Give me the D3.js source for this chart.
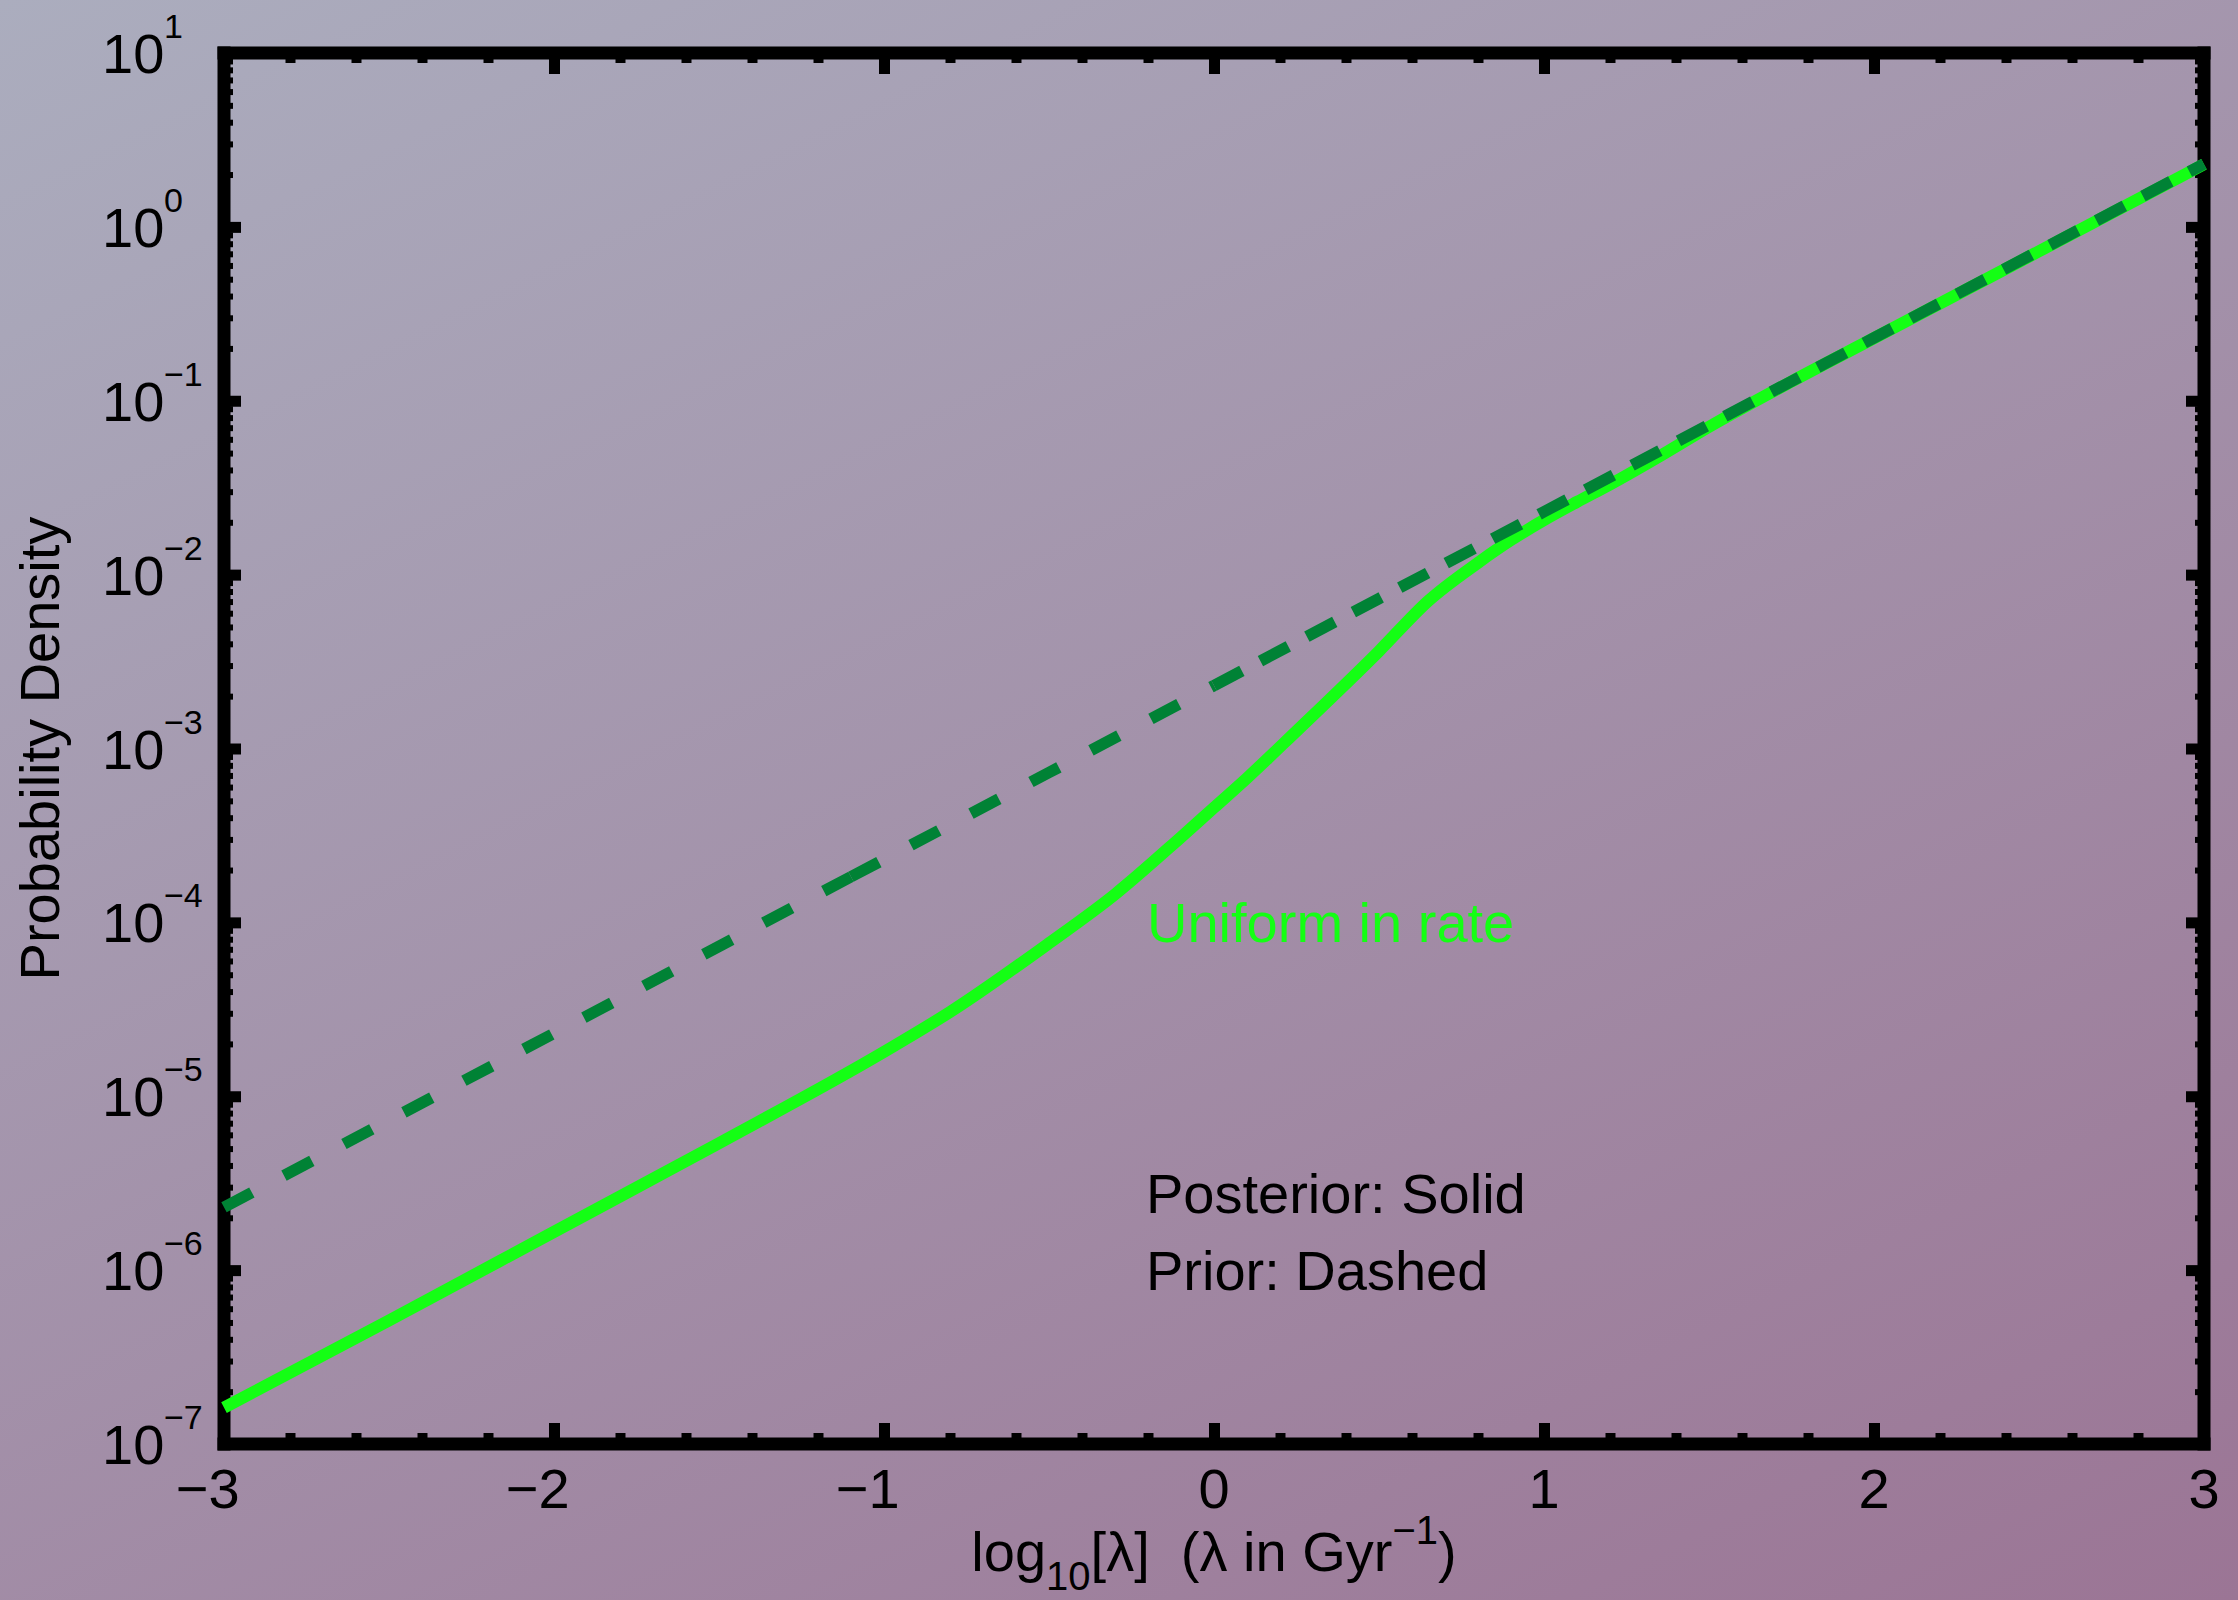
<!DOCTYPE html>
<html><head><meta charset="utf-8">
<script src="https://cdn.jsdelivr.net/npm/d3@7"></script>
<style>
html,body{margin:0;padding:0;overflow:hidden;background:#a39aae;}
text{font-family:"Liberation Sans",Arial,Helvetica,sans-serif;}
</style>
</head><body>
<svg id="chart" width="2238" height="1600"></svg>
<script>
// ---- data ----
const xTickValues = [-3, -2, -1, 0, 1, 2, 3];
const xTickLabels = ["\u22123", "\u22122", "\u22121", "0", "1", "2", "3"];
const yTickExponents = [1, 0, -1, -2, -3, -4, -5, -6, -7];
const yTickExpLabels = ["1", "0", "\u22121", "\u22122", "\u22123", "\u22124", "\u22125", "\u22126", "\u22127"];

// Prior (dashed): log10(lambda) vs probability density
const priorX = [-3, -2.5, -2, -1.5, -1.1, -0.5, 0, 0.5, 1, 1.5, 2, 2.5, 3];
const priorY = [2.30e-6, 7.28e-6, 2.30e-5, 7.28e-5, 1.83e-4, 7.28e-4, 2.30e-3, 7.28e-3, 2.30e-2, 7.28e-2, 0.230, 0.728, 2.30];
const priorDashBreaks = [-1.1, 0];   // where the dash pattern restarts

// Posterior (solid)
const posteriorX = [-3.0, -2.5, -2.0, -1.5, -1.0, -0.8, -0.5, -0.3, -0.1, 0.0, 0.1, 0.25, 0.5, 0.65, 0.8, 0.9, 1.0, 1.1, 1.2, 1.35, 1.5, 1.75, 2.0, 2.5, 3.0];
const posteriorY = [1.62e-7, 5.13e-7, 1.66e-6, 5.37e-6, 1.80e-5, 3.05e-5, 7.59e-5, 1.45e-4, 3.09e-4, 4.57e-4, 6.76e-4, 1.26e-3, 3.63e-3, 7.08e-3, 1.17e-2, 1.58e-2, 2.06e-2, 2.62e-2, 3.30e-2, 4.79e-2, 7.08e-2, 0.129, 0.229, 0.724, 2.29];

const annotationLabel = "Uniform in rate";
const legendLines = ["Posterior: Solid", "Prior: Dashed"];
const yTitle = "Probability Density";

// ---- layout ----
const W = 2238, H = 1600;
const L = 224, R = 2204, T = 53, B = 1444;
const FS = 56;
const brightGreen = "#14ff14", darkGreen = "#008235";

const svg = d3.select("#chart");

// background gradient
const defs = svg.append("defs");
const grad = defs.append("linearGradient").attr("id", "bg")
  .attr("gradientUnits", "userSpaceOnUse")
  .attr("x1", 0).attr("y1", 0).attr("x2", 1080).attr("y2", 2175);
grad.append("stop").attr("offset", 0).attr("stop-color", "rgb(171,173,190)");
grad.append("stop").attr("offset", 1).attr("stop-color", "rgb(155,117,149)");
svg.append("rect").attr("width", W).attr("height", H).attr("fill", "url(#bg)");

const x = d3.scaleLinear().domain([-3, 3]).range([L, R]);
const y = d3.scaleLog().domain([1e-7, 10]).range([B, T]);

// minor tick positions
const xMinor = d3.range(-3, 3.0001, 0.2).map(v => +v.toFixed(1)).filter(v => Math.abs(v - Math.round(v)) > 1e-6);
const yMinor = [];
for (let e = -7; e <= 0; e++) for (let m = 2; m <= 9; m++) yMinor.push(m * Math.pow(10, e));
const yMajor = yTickExponents.map(e => Math.pow(10, e));

function styleAxis(g, w) {
  g.select(".domain").remove();
  g.selectAll(".tick line").attr("stroke", "#000").attr("stroke-width", w);
  g.selectAll(".tick text").remove();
}

// ticks via d3 axes (inward)
svg.append("g").attr("transform", `translate(0,${B})`)
  .call(d3.axisBottom(x).tickValues(xTickValues).tickSizeInner(-21).tickSizeOuter(0).tickFormat(""))
  .call(g => styleAxis(g, 11));
svg.append("g").attr("transform", `translate(0,${B})`)
  .call(d3.axisBottom(x).tickValues(xMinor).tickSizeInner(-11).tickSizeOuter(0).tickFormat(""))
  .call(g => styleAxis(g, 10));
svg.append("g").attr("transform", `translate(0,${T})`)
  .call(d3.axisTop(x).tickValues(xTickValues).tickSizeInner(-21).tickSizeOuter(0).tickFormat(""))
  .call(g => styleAxis(g, 11));
svg.append("g").attr("transform", `translate(0,${T})`)
  .call(d3.axisTop(x).tickValues(xMinor).tickSizeInner(-10).tickSizeOuter(0).tickFormat(""))
  .call(g => styleAxis(g, 10));
svg.append("g").attr("transform", `translate(${L},0)`)
  .call(d3.axisLeft(y).tickValues(yMajor).tickSizeInner(-17).tickSizeOuter(0).tickFormat(""))
  .call(g => styleAxis(g, 11));
svg.append("g").attr("transform", `translate(${L},0)`)
  .call(d3.axisLeft(y).tickValues(yMinor).tickSizeInner(-9).tickSizeOuter(0).tickFormat(""))
  .call(g => styleAxis(g, 6));
svg.append("g").attr("transform", `translate(${R},0)`)
  .call(d3.axisRight(y).tickValues(yMajor).tickSizeInner(-18).tickSizeOuter(0).tickFormat(""))
  .call(g => styleAxis(g, 11));
svg.append("g").attr("transform", `translate(${R},0)`)
  .call(d3.axisRight(y).tickValues(yMinor).tickSizeInner(-9).tickSizeOuter(0).tickFormat(""))
  .call(g => styleAxis(g, 6));

// frame
const frame = svg.append("g").attr("stroke", "#000").attr("stroke-width", 13).attr("stroke-linecap", "square");
frame.append("line").attr("x1", L).attr("x2", R).attr("y1", T).attr("y2", T);
frame.append("line").attr("x1", L).attr("x2", R).attr("y1", B).attr("y2", B);
frame.append("line").attr("x1", L).attr("x2", L).attr("y1", T).attr("y2", B);
frame.append("line").attr("x1", R).attr("x2", R).attr("y1", T).attr("y2", B);

// curves
const posterior = posteriorX.map((v, i) => [v, posteriorY[i]]);
const prior = priorX.map((v, i) => [v, priorY[i]]);

const smooth = d3.line().x(d => x(d[0])).y(d => y(d[1])).curve(d3.curveMonotoneX);
const straight = d3.line().x(d => x(d[0])).y(d => y(d[1]));

svg.append("path").datum(posterior).attr("d", smooth)
  .attr("fill", "none").attr("stroke", brightGreen).attr("stroke-width", 12);

const bounds = [-3].concat(priorDashBreaks, [3]);
const dashes = ["31.5,36.3", "31.5,36.3", "31.5,21"];
for (let s = 0; s < bounds.length - 1; s++) {
  const seg = prior.filter(d => d[0] >= bounds[s] - 1e-9 && d[0] <= bounds[s + 1] + 1e-9);
  svg.append("path").datum(seg).attr("d", straight)
    .attr("fill", "none").attr("stroke", darkGreen).attr("stroke-width", 11.5)
    .attr("stroke-dasharray", dashes[s]).attr("stroke-linecap", "butt");
}

// y tick labels
yTickExponents.forEach((e, i) => {
  const yy = y(Math.pow(10, e));
  svg.append("text").attr("x", 102).attr("y", yy + 20).attr("font-size", FS).attr("fill", "#000").text("10");
  svg.append("text").attr("x", 164).attr("y", yy - 15).attr("font-size", 34).attr("fill", "#000").text(yTickExpLabels[i]);
});

// x tick labels (digit centred on tick)
xTickValues.forEach((v, i) => {
  svg.append("text").attr("x", x(v) + FS * 0.556 / 2).attr("y", 1508)
    .attr("text-anchor", "end").attr("font-size", FS).attr("fill", "#000").text(xTickLabels[i]);
});

// x title
const xt = svg.append("text").attr("x", (L + R) / 2).attr("y", 1571).attr("text-anchor", "middle")
  .attr("font-size", FS).attr("fill", "#000").style("white-space", "pre");
xt.append("tspan").text("log");
xt.append("tspan").attr("font-size", 40).attr("dy", 19).text("10");
xt.append("tspan").attr("dy", -19).text("[\u03bb]  (\u03bb in Gyr");
xt.append("tspan").attr("font-size", 40).attr("dy", -27).text("\u22121");
xt.append("tspan").attr("dy", 27).text(")");

// y title
svg.append("text").attr("transform", `translate(59,${(T + B) / 2}) rotate(-90)`)
  .attr("text-anchor", "middle").attr("font-size", FS).attr("fill", "#000").text(yTitle);

// annotations
svg.append("text").attr("x", 1147).attr("y", 942).attr("font-size", FS).attr("fill", brightGreen).text(annotationLabel);
legendLines.forEach((t, i) => {
  svg.append("text").attr("x", 1146).attr("y", 1213 + i * 77).attr("font-size", FS).attr("fill", "#000").text(t);
});
</script>
</body></html>
